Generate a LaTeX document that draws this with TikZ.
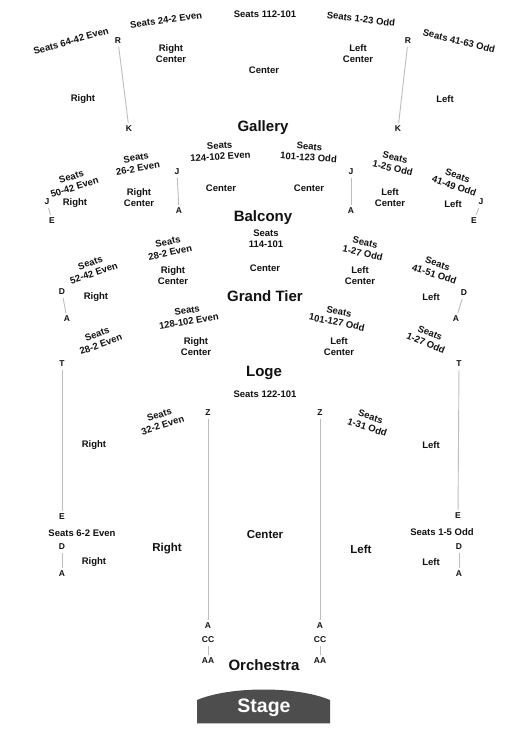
\documentclass[tikz,border=0pt]{standalone}
\usepackage{fontspec}
\setmainfont{Liberation Sans}
\definecolor{rowgray}{HTML}{BDBDBD}
\definecolor{stagegray}{HTML}{4D4D4D}
\definecolor{txt}{HTML}{111111}
\begin{document}
\begin{tikzpicture}[x=1pt,y=-1pt,
  lbl/.style={font=\fontsize{9.5}{11}\selectfont\bfseries, align=center, inner sep=0pt, text=txt},
  biglbl/.style={font=\fontsize{11.5}{13}\selectfont\bfseries, inner sep=0pt, text=txt},
  lvl/.style={font=\fontsize{15}{17}\selectfont\bfseries, inner sep=0pt, text=txt},
  rowl/.style={font=\fontsize{8.5}{10}\selectfont\bfseries, inner sep=0pt, outer sep=3pt, text=txt},
  rowline/.style={draw=rowgray, line width=0.9pt}]
\useasboundingbox (0,0) rectangle (525,750);
\fill[white] (0,0) rectangle (525,750);

% ---------- Gallery ----------
\node[lbl] (g1) at (265,14) {Seats 112-101};
\node[lbl,rotate=8] (g2) at (166,20) {Seats 24-2 Even};
\node[lbl,rotate=16] (g3) at (71,41) {Seats 64-42 Even};
\node[lbl,rotate=-7] (g4) at (361,19) {Seats 1-23 Odd};
\node[lbl,rotate=-14] (g5) at (459,41) {Seats 41-63 Odd};
\node[lbl] (g6) at (171,54) {Right\\Center};
\node[lbl] (g7) at (264,70) {Center};
\node[lbl] (g8) at (358,54) {Left\\Center};
\node[lbl] (g9) at (83,99) {Right};
\node[lbl] (g10) at (445,99) {Left};
\node[rowl] (gR1) at (118,41) {R};
\node[rowl] (gK1) at (129,129) {K};
\node[rowl] (gR2) at (408,41) {R};
\node[rowl] (gK2) at (398,129) {K};
\draw[rowline] (gR1) -- (gK1);
\draw[rowline] (gR2) -- (gK2);
\node[lvl] (gal) at (263,128) {Gallery};

% ---------- Balcony ----------
\node[lbl,rotate=4] (b1) at (220,151) {Seats\\124-102 Even};
\node[lbl,rotate=-4] (b2) at (309,152) {Seats\\101-123 Odd};
\node[lbl,rotate=10] (b3) at (137,163) {Seats\\26-2 Even};
\node[lbl,rotate=-13] (b4) at (394,163) {Seats\\1-25 Odd};
\node[lbl,rotate=17] (b5) at (73,182) {Seats\\50-42 Even};
\node[lbl,rotate=-19] (b6) at (456,181) {Seats\\41-49 Odd};
\node[lbl] (b7) at (75,203) {Right};
\node[lbl] (b8) at (139,198) {Right\\Center};
\node[lbl] (b9) at (221,188) {Center};
\node[lbl] (b10) at (309,188) {Center};
\node[lbl] (b11) at (390,198) {Left\\Center};
\node[lbl] (b12) at (453,204) {Left};
\node[rowl] (bJ1) at (177,172) {J};
\node[rowl] (bA1) at (179,211) {A};
\node[rowl] (bJ2) at (351,172) {J};
\node[rowl] (bA2) at (351,211) {A};
\node[rowl] (bJ3) at (47,202) {J};
\node[rowl] (bE3) at (52,221) {E};
\node[rowl] (bJ4) at (481,202) {J};
\node[rowl] (bE4) at (474,221) {E};
\draw[rowline] (bJ1) -- (bA1);
\draw[rowline] (bJ2) -- (bA2);
\draw[rowline] (bJ3) -- (bE3);
\draw[rowline] (bJ4) -- (bE4);
\node[lvl] (bal) at (263,218) {Balcony};

% ---------- Grand Tier ----------
\node[lbl] (t1) at (266,239) {Seats\\114-101};
\node[lbl] (t2) at (265,268) {Center};
\node[lbl,rotate=12] (t3) at (169,247) {Seats\\28-2 Even};
\node[lbl] (t4) at (173,276) {Right\\Center};
\node[lbl,rotate=19] (t5) at (92,268) {Seats\\52-42 Even};
\node[lbl] (t6) at (96,297) {Right};
\node[lbl,rotate=-13] (t7) at (364,248) {Seats\\1-27 Odd};
\node[lbl] (t8) at (360,276) {Left\\Center};
\node[lbl,rotate=-18] (t9) at (436,269) {Seats\\41-51 Odd};
\node[lbl] (t10) at (431,297) {Left};
\node[rowl] (tD1) at (62,292) {D};
\node[rowl] (tA1) at (67,319) {A};
\node[rowl] (tD2) at (464,293) {D};
\node[rowl] (tA2) at (456,319) {A};
\draw[rowline] (tD1) -- (tA1);
\draw[rowline] (tD2) -- (tA2);
\node[lvl] (gt) at (265,296) {Grand Tier};

% ---------- Loge ----------
\node[lbl,rotate=9.5] (l1) at (188,316) {Seats\\128-102 Even};
\node[lbl] (l2) at (196,347) {Right\\Center};
\node[lbl,rotate=-11.5] (l3) at (338,317) {Seats\\101-127 Odd};
\node[lbl] (l4) at (339,347) {Left\\Center};
\node[lbl,rotate=20] (l5) at (99,339) {Seats\\28-2 Even};
\node[lbl,rotate=-23] (l6) at (428,338) {Seats\\1-27 Odd};
\node[rowl] (lT1) at (62,364) {T};
\node[rowl] (lE1) at (62,517) {E};
\node[rowl] (lT2) at (459,364) {T};
\node[rowl] (lE2) at (458,516) {E};
\draw[rowline] (lT1) -- (lE1);
\draw[rowline] (lT2) -- (lE2);
\node[lvl] (loge) at (264,373) {Loge};

% ---------- Orchestra ----------
\node[lbl] (o1) at (265,394) {Seats 122-101};
\node[lbl,rotate=18] (o2) at (161,420) {Seats\\32-2 Even};
\node[lbl,rotate=-18] (o3) at (369,422) {Seats\\1-31 Odd};
\node[lbl] (o4) at (94,445) {Right};
\node[lbl] (o5) at (431,445) {Left};
\node[lbl] (o6) at (82,533) {Seats 6-2 Even};
\node[lbl] (o7) at (442,532) {Seats 1-5 Odd};
\node[lbl] (o8) at (94,562) {Right};
\node[lbl] (o9) at (431,562) {Left};
\node[biglbl] (o10) at (167,549) {Right};
\node[biglbl] (o11) at (265,535) {Center};
\node[biglbl] (o12) at (361,549) {Left};
\node[rowl] (oZ1) at (208,413) {Z};
\node[rowl] (oA1) at (208,626) {A};
\node[rowl] (oC1) at (208,640) {CC};
\node[rowl] (oAA1) at (208,661) {AA};
\node[rowl] (oZ2) at (320,413) {Z};
\node[rowl] (oA2) at (320,626) {A};
\node[rowl] (oC2) at (320,640) {CC};
\node[rowl] (oAA2) at (320,661) {AA};
\node[rowl] (oD1) at (62,547) {D};
\node[rowl] (oA3) at (62,574) {A};
\node[rowl] (oD2) at (459,547) {D};
\node[rowl] (oA4) at (459,574) {A};
\draw[rowline] (oZ1) -- (oA1);
\draw[rowline] (oZ2) -- (oA2);
\draw[rowline] (oC1) -- (oAA1);
\draw[rowline] (oC2) -- (oAA2);
\draw[rowline] (oD1) -- (oA3);
\draw[rowline] (oD2) -- (oA4);
\node[lvl] (orch) at (264,665) {Orchestra};

% ---------- Stage ----------
\fill[stagegray] (197,723) -- (197,700) .. controls (230,686) and (297,686) .. (330,700) -- (330,723) -- cycle;
\draw[rowgray, line width=0.8pt] (197,723.5) -- (330,723.5);
\node[font=\fontsize{19.5}{22}\selectfont\bfseries, text=white, inner sep=0pt] (stage) at (264,708) {Stage};
\end{tikzpicture}
\end{document}
